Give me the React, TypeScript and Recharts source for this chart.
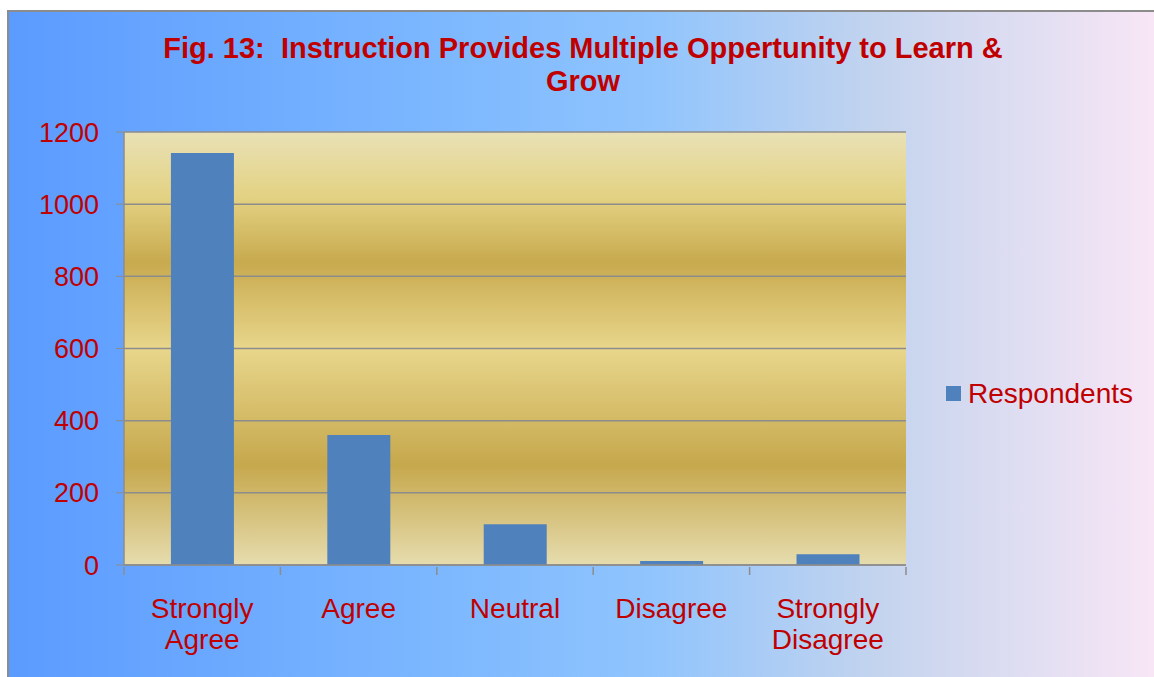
import { BarChart, Bar, XAxis, YAxis, CartesianGrid, Legend } from 'recharts';

// chart values
const titleLines = ['Fig. 13:  Instruction Provides Multiple Oppertunity to Learn &', 'Grow'];
const categories = ['Strongly Agree', 'Agree', 'Neutral', 'Disagree', 'Strongly Disagree'];
const respondents = [1142, 360, 113, 11, 30];
const yTicks = [0, 200, 400, 600, 800, 1000, 1200];

const data = categories.map((name, i) => ({ name, respondents: respondents[i] }));

const RED = '#c00000';
const GRAY = '#8c8c8c';
const BLUE = '#4f81bd';
const FONT = '"Liberation Sans", Arial, sans-serif';

// label in two lines plus tick marks on the category boundaries (Excel style)
function CategoryTick({ x, y, payload, index }: any) {
  const lines = String(payload.value).split(' ');
  const half = payload.offset || 0;
  const last = index === categories.length - 1;
  return (
    <g>
      <line x1={x - half} x2={x - half} y1={y} y2={y + 8} stroke={GRAY} strokeWidth={1.5} />
      {last && <line x1={x + half} x2={x + half} y1={y} y2={y + 8} stroke={GRAY} strokeWidth={1.5} />}
      <text x={x} y={y} textAnchor="middle" fill={RED} fontSize={28} fontFamily={FONT}>
        {lines.map((line, i) => (
          <tspan key={i} x={x} y={y + 51 + i * 31}>
            {line}
          </tspan>
        ))}
      </text>
    </g>
  );
}

function LegendBox() {
  return (
    <div style={{ display: 'flex', alignItems: 'center', fontFamily: FONT, fontSize: 28, lineHeight: '31px', color: RED }}>
      <span style={{ display: 'inline-block', width: 15, height: 15, background: BLUE, marginRight: 7 }} />
      <span>Respondents</span>
    </div>
  );
}

export default function App() {
  return (
    <div style={{ position: 'absolute', left: 0, top: 0, width: 1154, height: 677, overflow: 'hidden' }}>
      <svg width={0} height={0} style={{ position: 'absolute' }}>
        <defs>
          <linearGradient id="gold" x1="0" y1="0" x2="0" y2="1">
            <stop offset="0%" stopColor="#e9e1b6" />
            <stop offset="15%" stopColor="#e3d283" />
            <stop offset="30%" stopColor="#c8aa4f" />
            <stop offset="50%" stopColor="#e8d68b" />
            <stop offset="77%" stopColor="#c6a84d" />
            <stop offset="100%" stopColor="#e6dcae" />
          </linearGradient>
        </defs>
      </svg>
      <div
        style={{
          position: 'absolute',
          left: 7,
          top: 10,
          width: 1160,
          height: 680,
          border: `2px solid ${GRAY}`,
          background: 'linear-gradient(to right, #5b9bff 0%, #7ab6ff 35%, #8fc4fd 55%, #c4d4ee 75%, #fbe7f6 100%)',
        }}
      />
      <div
        style={{
          position: 'absolute',
          left: 0,
          top: 32,
          width: 1166,
          textAlign: 'center',
          fontFamily: FONT,
          fontWeight: 'bold',
          fontSize: 29,
          lineHeight: '33px',
          color: RED,
        }}
      >
        {titleLines.map((l, i) => (
          <div key={i} style={{ whiteSpace: 'pre' }}>{l}</div>
        ))}
      </div>
      <div style={{ position: 'absolute', left: 0, top: 0 }}>
        <BarChart
          width={1154}
          height={677}
          data={data}
          margin={{ top: 132, right: 248, bottom: 0, left: 0 }}
          barCategoryGap="30%"
        >
          <CartesianGrid vertical={false} stroke={GRAY} strokeWidth={1.5} fill="url(#gold)" fillOpacity={1} />
          <XAxis
            dataKey="name"
            tick={<CategoryTick />}
            tickLine={false}
            tickSize={0}
            axisLine={{ stroke: GRAY, strokeWidth: 1.5 }}
            height={112}
            interval={0}
          />
          <YAxis
            domain={[0, 1200]}
            ticks={yTicks}
            width={124}
            tickSize={8}
            tickMargin={17}
            stroke={GRAY}
            axisLine={{ stroke: GRAY, strokeWidth: 1.5 }}
            tick={{ fill: RED, fontSize: 27, fontFamily: FONT }}
          />
          <Legend
            layout="horizontal"
            verticalAlign="middle"
            align="center"
            content={<LegendBox />}
            wrapperStyle={{ left: 946, top: 378, width: 220 }}
          />
          <Bar dataKey="respondents" fill={BLUE} isAnimationActive={false} />
        </BarChart>
      </div>
    </div>
  );
}
